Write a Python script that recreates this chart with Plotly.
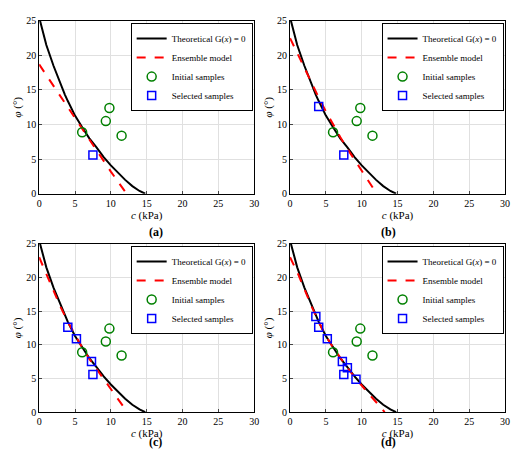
import plotly.graph_objects as go

theo_c = [0, 0.3, 1, 2, 3, 3.6, 4, 5, 6, 7, 8, 9, 10, 11, 12, 13, 14, 14.8]
theo_phi = [25.5, 24.2, 21.5, 18.5, 15.8, 14.3, 13.4, 11.3, 9.6, 8.0, 6.7, 5.3, 4.1, 3.0, 2.0, 1.1, 0.4, 0.0]

ens = {
    'a': ([0, 2, 4, 6, 8, 10, 12.2], [18.7, 15.6, 12.5, 9.4, 6.3, 3.2, 0.0]),
    'b': ([0, 1, 2, 3, 4, 5, 6, 7, 8, 9, 10, 11, 12.1], [22.5, 20.3, 18.2, 16.0, 13.9, 11.9, 10.0, 8.2, 6.5, 4.9, 3.3, 1.7, 0.0]),
    'c': ([0, 1, 2, 3, 4, 5, 6, 7, 8, 9, 10, 11, 12.3], [23.0, 20.5, 18.0, 15.6, 13.4, 11.4, 9.6, 7.9, 6.4, 4.9, 3.5, 2.0, 0.0]),
    'd': ([0, 1, 2, 3, 4, 5, 6, 7, 8, 9, 10, 11, 12, 13.2], [23.0, 20.8, 18.3, 15.7, 13.4, 11.3, 9.6, 8.0, 6.6, 5.2, 3.9, 2.7, 1.5, 0.0]),
}

init_c = [6.0, 9.3, 9.8, 11.5]
init_phi = [8.9, 10.5, 12.4, 8.4]

sel = {
    'a': ([7.5], [5.6]),
    'b': ([7.5, 4.0], [5.6, 12.6]),
    'c': ([4.0, 5.2, 7.3, 7.5], [12.6, 10.9, 7.5, 5.6]),
    'd': ([3.6, 4.0, 5.2, 7.3, 7.5, 8.0, 9.2], [14.2, 12.6, 10.9, 7.5, 5.6, 6.6, 4.9]),
}

panels = ['a', 'b', 'c', 'd']
xd = [[0.055, 0.475], [0.545, 0.965], [0.055, 0.475], [0.545, 0.965]]
yd = [[0.605, 0.985], [0.605, 0.985], [0.125, 0.495], [0.125, 0.495]]
FONT = "Liberation Serif, Times New Roman, DejaVu Serif, serif"

fig = go.Figure()
for i, p in enumerate(panels):
    n = '' if i == 0 else str(i + 1)
    xa, ya, lg = 'x' + n, 'y' + n, 'legend' + n
    fig.add_trace(go.Scatter(x=theo_c, y=theo_phi, mode='lines', line=dict(color='black', width=2),
                             name='Theoretical G(<i>x</i>) = 0', xaxis=xa, yaxis=ya, legend=lg))
    fig.add_trace(go.Scatter(x=ens[p][0], y=ens[p][1], mode='lines', line=dict(color='red', width=2, dash='dash'),
                             name='Ensemble model', xaxis=xa, yaxis=ya, legend=lg))
    fig.add_trace(go.Scatter(x=init_c, y=init_phi, mode='markers',
                             marker=dict(symbol='circle-open', color='green', size=9, line=dict(width=1.5)),
                             name='Initial samples', xaxis=xa, yaxis=ya, legend=lg))
    fig.add_trace(go.Scatter(x=sel[p][0], y=sel[p][1], mode='markers',
                             marker=dict(symbol='square-open', color='blue', size=8, line=dict(width=1.5)),
                             name='Selected samples', xaxis=xa, yaxis=ya, legend=lg))
    ax = dict(range=[0, 30], dtick=5, domain=xd[i], anchor=ya, showgrid=True, gridcolor='#e0e0e0',
              showline=True, mirror=True, linecolor='black', ticks='inside', ticklen=3, zeroline=False,
              title=dict(text='<i>c</i> (kPa)', standoff=2, font=dict(size=11, family=FONT)),
              tickfont=dict(size=10, family=FONT))
    ay = dict(range=[0, 25], dtick=5, domain=yd[i], anchor=xa, showgrid=True, gridcolor='#e0e0e0',
              showline=True, mirror=True, linecolor='black', ticks='inside', ticklen=3, zeroline=False,
              title=dict(text='<i>φ</i> (°)', standoff=2, font=dict(size=11, family=FONT)),
              tickfont=dict(size=10, family=FONT))
    fig.update_layout(**{'xaxis' + n: ax, 'yaxis' + n: ay})
    fig.update_layout(**{lg: dict(x=xd[i][1] - 0.003, y=yd[i][1] - 0.005, xanchor='right', yanchor='top',
                                  bordercolor='black', borderwidth=1, bgcolor='white',
                                  font=dict(size=9, family=FONT), tracegroupgap=0, itemwidth=30)})
    fig.add_annotation(text='<b>(%s)</b>' % p, x=(xd[i][0] + xd[i][1]) / 2, y=yd[i][0] - 0.085,
                       xref='paper', yref='paper', showarrow=False, font=dict(size=12, family=FONT))

fig.update_layout(width=520, height=467, margin=dict(l=0, r=0, t=0, b=0), plot_bgcolor='white',
                  paper_bgcolor='white', font=dict(family=FONT, color='black'))
fig.write_html("out.html")
